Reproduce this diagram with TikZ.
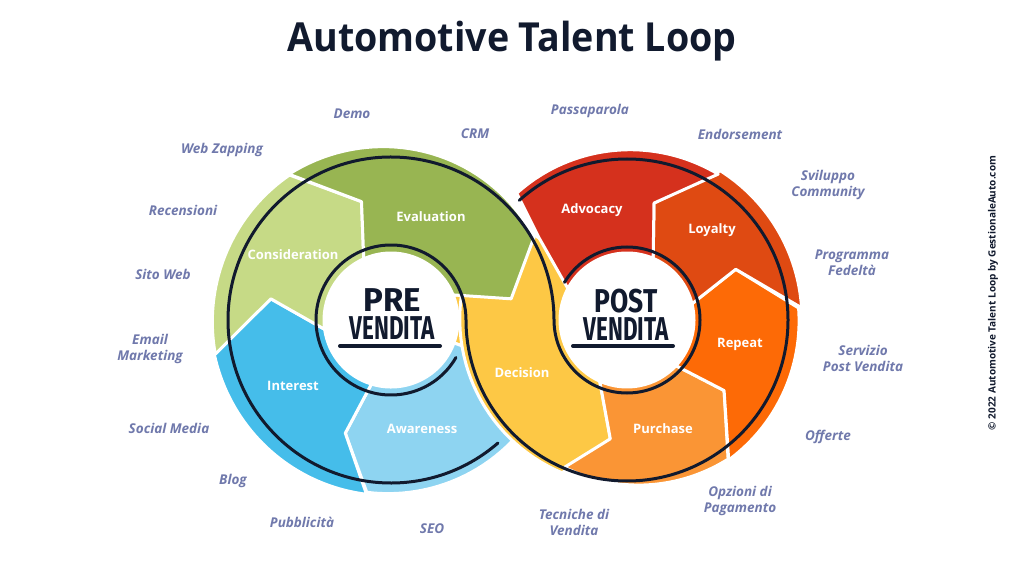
\documentclass[tikz,border=0pt]{standalone}
\usepackage{fontspec}
\setmainfont{Open Sans}
\newfontfamily\handfont{Fira Sans}
\usetikzlibrary{positioning}

\definecolor{ink}{HTML}{111A2E}
\definecolor{tagcol}{HTML}{7079AC}
\definecolor{awarecol}{HTML}{8ED4F1}
\definecolor{interestcol}{HTML}{45BDEA}
\definecolor{considercol}{HTML}{C6DA86}
\definecolor{evalcol}{HTML}{98B552}
\definecolor{decisioncol}{HTML}{FDC845}
\definecolor{purchasecol}{HTML}{FA9535}
\definecolor{repeatcol}{HTML}{FD6A06}
\definecolor{loyaltycol}{HTML}{DF4A12}
\definecolor{advocacycol}{HTML}{D5311D}

\tikzset{
  seg/.style={draw=white, line width=3pt, line join=round},
  stage/.style={text=white, font=\fontsize{13}{15}\selectfont\bfseries},
  tag/.style={text=tagcol, align=center, font=\fontsize{13.5}{16}\selectfont\bfseries\itshape},
  loopline/.style={draw=ink, line width=3pt, line cap=round},
  hand/.style={text=ink, inner sep=0pt, align=center, font=\handfont\fontsize{33}{28}\selectfont\bfseries},
  underline/.style={draw=ink, line width=4pt, line cap=round}
}

% arrow shaped ring piece: colour, start (outer, tip, inner), end (outer, tip, inner), outer radius at start and end
\newcommand{\ringseg}[9]{%
  \path[seg, fill=#1] plot[domain=#2:#5, samples=40] (\x:{#8+((#9)-(#8))*(\x-(#2))/((#5)-(#2))})
    -- (#6:\rmid) -- (#7:\rin) arc[start angle=#7, end angle=#4, radius=\rin] -- (#3:\rmid) -- cycle;}

\begin{document}
\begin{tikzpicture}[x=1pt, y=1pt]
  \useasboundingbox[fill=white] (0,0) rectangle (1024,576);
  \coordinate (L) at (391,256);
  \coordinate (R) at (627,256);

  % pre vendita ring
  \begin{scope}[shift={(L)}]
    \def\rin{67}\def\rmid{122}
    \ringseg{decisioncol}{30}{10}{22}{-20}{-20}{-20}{165}{165}
    \ringseg{awarecol}{340}{340}{340}{262}{248}{253}{170}{174}
    \ringseg{interestcol}{262}{248}{253}{191}{170}{188}{176}{180}
    \ringseg{considercol}{191}{170}{188}{125}{104}{114}{179}{177}
  \end{scope}
  \begin{scope}[shift={(R)}]
    \def\rin{67}\def\rmid{120}
    \ringseg{decisioncol}{140}{137}{135}{247}{262}{246}{168}{166}
  \end{scope}
  \begin{scope}[shift={(L)}]
    \def\rin{67}\def\rmid{122}
    \ringseg{evalcol}{125}{104}{114}{30}{10}{22}{178}{165}
  \end{scope}
  % post vendita ring
  \begin{scope}[shift={(R)}]
    \def\rin{67}\def\rmid{120}
    \ringseg{purchasecol}{247}{262}{246}{306}{324}{317}{160}{172}
    \ringseg{repeatcol}{306}{324}{317}{364}{385}{374}{173}{172}
    \ringseg{loyaltycol}{364}{385}{374}{418}{437}{427}{175}{176}
    \ringseg{advocacycol}{418}{437}{427}{491}{497}{512}{172}{168}
  \end{scope}

  \fill[white] (L) circle[radius=67];
  \fill[white] (R) circle[radius=67];

  % the loop
  \draw[loopline] (L) ++(311:163) arc[start angle=311, end angle=0, radius=163]
    arc[start angle=180, end angle=509, radius=73];
  \draw[loopline] (L) ++(330:75) arc[start angle=330, end angle=0, radius=75]
    arc[start angle=180, end angle=492, radius=161];

  \node[hand] (pre) at (392,261.5) {PRE\\\scalebox{0.68}[1]{VENDITA}};
  \draw[underline] (340,230) -- (440,230);
  \node[hand] (post) at (626,261.5) {\scalebox{0.8}[1]{POST}\\\scalebox{0.68}[1]{VENDITA}};
  \draw[underline] (573,230) -- (673,230);

  % stages
  \node[stage] (evaluation) at (431,359) {Evaluation};
  \node[stage] (consideration) at (293,321) {Consideration};
  \node[stage] (interest) at (293,190) {Interest};
  \node[stage] (awareness) at (422,147) {Awareness};
  \node[stage] (decision) at (522,203) {Decision};
  \node[stage] (purchase) at (663,147) {Purchase};
  \node[stage] (repeat) at (740,232) {Repeat};
  \node[stage] (loyalty) at (712,346) {Loyalty};
  \node[stage] (advocacy) at (592,366) {Advocacy};

  % touch points
  \node[tag] (demo) at (352,462) {Demo};
  \node[tag] (crm) at (475,442) {CRM};
  \node[tag] (passaparola) at (590,465) {Passaparola};
  \node[tag] (endorsement) at (740,442) {Endorsement};
  \node[tag] (community) at (828,391) {Sviluppo\\Community};
  \node[tag] (fedelta) at (852,313) {Programma\\Fedeltà};
  \node[tag] (servizio) at (863,218) {Servizio\\Post Vendita};
  \node[tag] (offerte) at (828,139) {Offerte};
  \node[tag] (pagamento) at (740,75) {Opzioni di\\Pagamento};
  \node[tag] (tecniche) at (574,54) {Tecniche di\\Vendita};
  \node[tag] (seo) at (432,47) {SEO};
  \node[tag] (pubblicita) at (302,54) {Pubblicità};
  \node[tag] (blog) at (233,95) {Blog};
  \node[tag] (social) at (169,148) {Social Media};
  \node[tag] (email) at (150,227) {Email\\Marketing};
  \node[tag] (sito) at (163,302) {Sito Web};
  \node[tag] (recensioni) at (183,366) {Recensioni};
  \node[tag] (zapping) at (222,426) {Web Zapping};

  \node[text=ink, font=\fontsize{40}{44}\selectfont\bfseries, xscale=0.94, anchor=base] (title) at (512,524) {Automotive Talent Loop};
  \node[rotate=90, text=ink, font=\fontsize{10}{12}\selectfont\bfseries] (copyright) at (993,283) {© 2022 Automotive Talent Loop by GestionaleAuto.com};
\end{tikzpicture}
\end{document}
